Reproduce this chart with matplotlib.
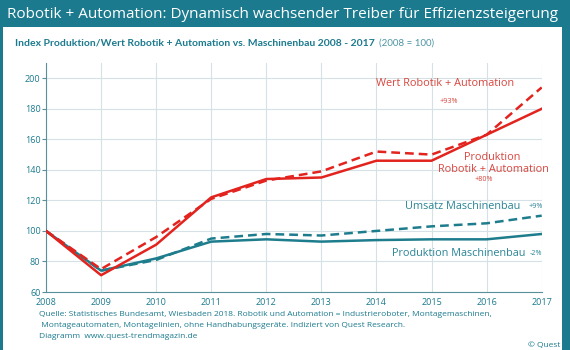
import matplotlib
matplotlib.use("Agg")
import matplotlib.pyplot as plt
from matplotlib.patches import Rectangle

plt.rcParams["font.family"] = ["Open Sans", "DejaVu Sans"]

years = [2008, 2009, 2010, 2011, 2012, 2013, 2014, 2015, 2016, 2017]
prod_robotik = [100, 71, 91, 122, 134, 135, 146, 146, 163, 180]
wert_robotik = [100, 75, 96, 121, 133, 139, 152, 150, 163, 194]
umsatz_mb = [100, 74, 81, 95, 98, 97, 100, 103, 105, 110]
prod_mb = [100, 74, 82, 93, 94.5, 93, 94, 94.5, 94.5, 98]
yticks = [60, 80, 100, 120, 140, 160, 180, 200]

TEAL = "#1b7a8e"
RED = "#e2231e"
LINE_TEAL = "#1e7d8d"
GRID = "#d5e1e6"
AXIS = "#5a8f9c"
LABEL_RED = "#d8453d"
LABEL_TEAL = "#2a8496"

fig = plt.figure(figsize=(5.7, 3.5), dpi=100)
fig.patch.set_facecolor(TEAL)
# white inner panel
fig.add_artist(Rectangle((3 / 570, 0), 559 / 570, 1 - 27 / 350,
                         transform=fig.transFigure, facecolor="white",
                         edgecolor="none", zorder=0))

fig.text(7 / 570, 1 - 14 / 350,
         "Robotik + Automation: Dynamisch wachsender Treiber für Effizienzsteigerung",
         color="white", fontsize=11, va="center", ha="left")
sub = fig.text(15 / 570, 1 - 43 / 350,
               "Index Produktion/Wert Robotik + Automation vs. Maschinenbau 2008 - 2017",
               color=TEAL, fontsize=7.5, fontweight="bold", va="center", ha="left",
               family=["Lato", "DejaVu Sans"])
fig.canvas.draw()
bb = sub.get_window_extent(fig.canvas.get_renderer())
fig.text(bb.x1 / fig.bbox.width + 4 / 570, 1 - 43 / 350, "(2008 = 100)", color="#4f95a5",
         fontsize=7, va="center", ha="left", family=["Lato", "DejaVu Sans"])

ax = fig.add_axes([46 / 570, 1 - 292 / 350, 495.7 / 570, (292 - 63) / 350])
ax.set_facecolor("white")

ax.plot(years, prod_robotik, color=RED, lw=1.8, zorder=4)
ax.plot(years, wert_robotik, color=RED, lw=1.8, ls=(0, (3.5, 2)), zorder=4)
ax.plot(years, prod_mb, color=LINE_TEAL, lw=1.8, zorder=3)
ax.plot(years, umsatz_mb, color=LINE_TEAL, lw=1.8, ls=(0, (3.5, 2)), zorder=3)

ax.set_xlim(2008, 2017)
ax.set_ylim(60, 210)
ax.set_xticks(years)
ax.set_yticks(yticks)
ax.grid(True, color=GRID, lw=0.8, zorder=0)
for s in ["top", "right"]:
    ax.spines[s].set_visible(False)
for s in ["left", "bottom"]:
    ax.spines[s].set_color(AXIS)
    ax.spines[s].set_linewidth(0.8)
ax.tick_params(axis="both", colors=AXIS, labelcolor=TEAL, labelsize=6.5,
               length=3, width=0.8, pad=1)
ax.tick_params(axis="x", length=0, pad=4)

ax.text(2015.25, 196.3, "Wert Robotik + Automation", color=LABEL_RED,
        fontsize=7.8, ha="center", va="center")
ax.text(2015.32, 185, "+93%", color=LABEL_RED, fontsize=5.2, ha="center", va="center")
ax.text(2016.1, 148.4, "Produktion", color=LABEL_RED, fontsize=7.8, ha="center", va="center")
ax.text(2016.12, 140, "Robotik + Automation", color=LABEL_RED, fontsize=7.8,
        ha="center", va="center")
ax.text(2015.95, 133.4, "+80%", color=LABEL_RED, fontsize=5.2, ha="center", va="center")
ax.text(2015.56, 116.3, "Umsatz Maschinenbau", color=LABEL_TEAL, fontsize=7.8,
        ha="center", va="center")
ax.text(2016.9, 116.3, "+9%", color=LABEL_TEAL, fontsize=5.2, ha="center", va="center")
ax.text(2015.5, 85, "Produktion Maschinenbau", color=LABEL_TEAL, fontsize=7.8,
        ha="center", va="center")
ax.text(2016.9, 85, "-2%", color=LABEL_TEAL, fontsize=5.2, ha="center", va="center")

foot = ("Quelle: Statistisches Bundesamt, Wiesbaden 2018. Robotik und Automation = Industrieroboter, Montagemaschinen,\n"
        " Montageautomaten, Montagelinien, ohne Handhabungsgeräte. Indiziert von Quest Research.\n"
        "Diagramm  www.quest-trendmagazin.de")
fig.text(39 / 570, 1 - 311 / 350, foot, color=TEAL, fontsize=6, ha="left", va="top",
         linespacing=1.85)
fig.text(528 / 570, 1 - 342 / 350, "© Quest", color=TEAL, fontsize=6, ha="left", va="top")

fig.savefig("out.png", dpi=100, facecolor=fig.get_facecolor())
